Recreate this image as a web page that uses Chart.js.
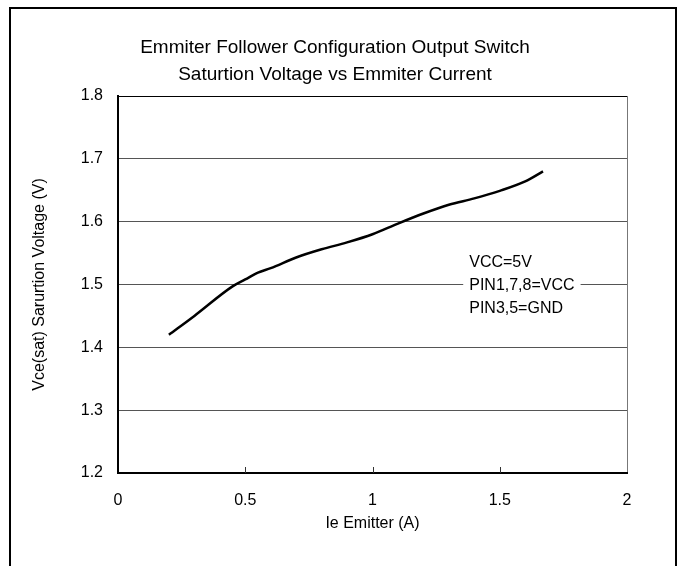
<!DOCTYPE html>
<html>
<head>
<meta charset="utf-8">
<script src="https://cdn.jsdelivr.net/npm/chart.js@4.4.1/dist/chart.umd.min.js"></script>
<style>
  body { margin: 0; background: #fff; }
  #wrap { position: relative; width: 682px; height: 566px; }
  #frame {
    position: absolute; left: 9px; top: 7px; width: 664px; height: 570px;
    border: 2px solid #000; border-bottom: none; pointer-events: none;
  }
</style>
</head>
<body>
<div id="wrap">
  <canvas id="sat-chart" width="682" height="566"></canvas>
  <div id="frame"></div>
</div>
<script>
const emitterCurrent = [0.2, 0.3, 0.45, 0.5, 0.55, 0.6, 0.7, 0.8, 0.9, 1.0, 1.1, 1.2, 1.3, 1.4, 1.5, 1.6, 1.67];
const satVoltage = [1.42, 1.45, 1.497, 1.508, 1.519, 1.526, 1.543, 1.556, 1.567, 1.58, 1.597, 1.613, 1.627, 1.637, 1.649, 1.664, 1.68];
const xTicks = [0, 0.5, 1, 1.5, 2];
const yTicks = [1.2, 1.3, 1.4, 1.5, 1.6, 1.7, 1.8];
const titleLines = ['Emmiter Follower Configuration Output Switch', 'Saturtion Voltage vs Emmiter Current'];
const noteLines = ["VCC=5V", "PIN1,7,8=VCC", "PIN3,5=GND"];

const FONT = "'Liberation Sans', Arial, sans-serif";

const points = emitterCurrent.map((x, i) => ({ x: x, y: satVoltage[i] }));

// title (centred on the frame, not the plot), inward x ticks, note text
const extras = {
    id: 'extras',
    afterDraw(chart) {
        const ctx = chart.ctx;
        const xs = chart.scales.x;
        const ys = chart.scales.y;
        const bottom = chart.chartArea.bottom;
        ctx.save();

        ctx.fillStyle = '#000';
        ctx.font = '19px ' + FONT;
        ctx.textAlign = 'center';
        ctx.textBaseline = 'middle';
        titleLines.forEach((t, i) => ctx.fillText(t, 335, 48 + i * 27));

        ctx.strokeStyle = '#333';
        ctx.lineWidth = 1;
        xTicks.slice(1, -1).forEach(v => {
            const px = Math.round(xs.getPixelForValue(v)) + 0.5;
            ctx.beginPath();
            ctx.moveTo(px, bottom);
            ctx.lineTo(px, bottom - 6);
            ctx.stroke();
        });

        ctx.font = '16px ' + FONT;
        ctx.textAlign = 'left';
        const left = xs.getPixelForValue(1.38);
        const mid = ys.getPixelForValue(1.5) + 1;
        const gap = 23;
        let w = 0;
        noteLines.forEach(t => { w = Math.max(w, ctx.measureText(t).width); });
        ctx.fillStyle = '#fff';
        ctx.fillRect(left - 6, mid - gap * 1.5, w + 12, gap * 3);
        ctx.fillStyle = '#000';
        noteLines.forEach((t, i) => {
            ctx.fillText(t, left, mid + (i - 1) * gap);
        });
        ctx.restore();
    }
};

const satChart = new Chart(document.getElementById('sat-chart'), {
    type: 'line',
    data: {
        datasets: [{
            data: points,
            borderColor: '#000',
            borderWidth: 2.5,
            pointRadius: 0,
            fill: false,
            cubicInterpolationMode: 'monotone'
        }]
    },
    options: {
        responsive: false,
        animation: false,
        layout: { padding: { left: 0, right: 55, top: 96, bottom: 0 } },
        plugins: {
            legend: { display: false },
            tooltip: { enabled: false },
            title: { display: false }
        },
        scales: {
            x: {
                type: 'linear',
                min: 0,
                max: 2,
                afterBuildTicks: s => { s.ticks = xTicks.map(v => ({ value: v })); },
                afterFit: s => { s.height = 93; },
                ticks: {
                    color: '#000',
                    padding: 18,
                    maxRotation: 0,
                    font: { family: FONT, size: 16 },
                    callback: v => String(v)
                },
                grid: {
                    drawTicks: false,
                    color: c => (c.tick && c.tick.value === 2) ? '#777' : 'rgba(0,0,0,0)',
                    lineWidth: 1
                },
                border: { color: '#000', width: 2 },
                title: {
                    display: true,
                    text: 'Ie Emitter (A)',
                    color: '#000',
                    font: { family: FONT, size: 16 },
                    padding: { top: 0, bottom: 33 }
                }
            },
            y: {
                type: 'linear',
                min: 1.2,
                max: 1.8,
                afterBuildTicks: s => { s.ticks = yTicks.map(v => ({ value: v })); },
                afterFit: s => { s.width = 118; },
                ticks: {
                    color: '#000',
                    padding: 15,
                    font: { family: FONT, size: 16 },
                    callback: v => v.toFixed(1)
                },
                grid: {
                    drawTicks: false,
                    color: c => (c.tick && c.tick.value === 1.8) ? '#000' : '#555',
                    lineWidth: 1
                },
                border: { color: '#000', width: 2 },
                title: {
                    display: true,
                    text: 'Vce(sat) Sarurtion Voltage (V)',
                    color: '#000',
                    font: { family: FONT, size: 16 },
                    padding: { top: 30, bottom: 0 }
                }
            }
        }
    },
    plugins: [extras]
});
</script>
</body>
</html>
